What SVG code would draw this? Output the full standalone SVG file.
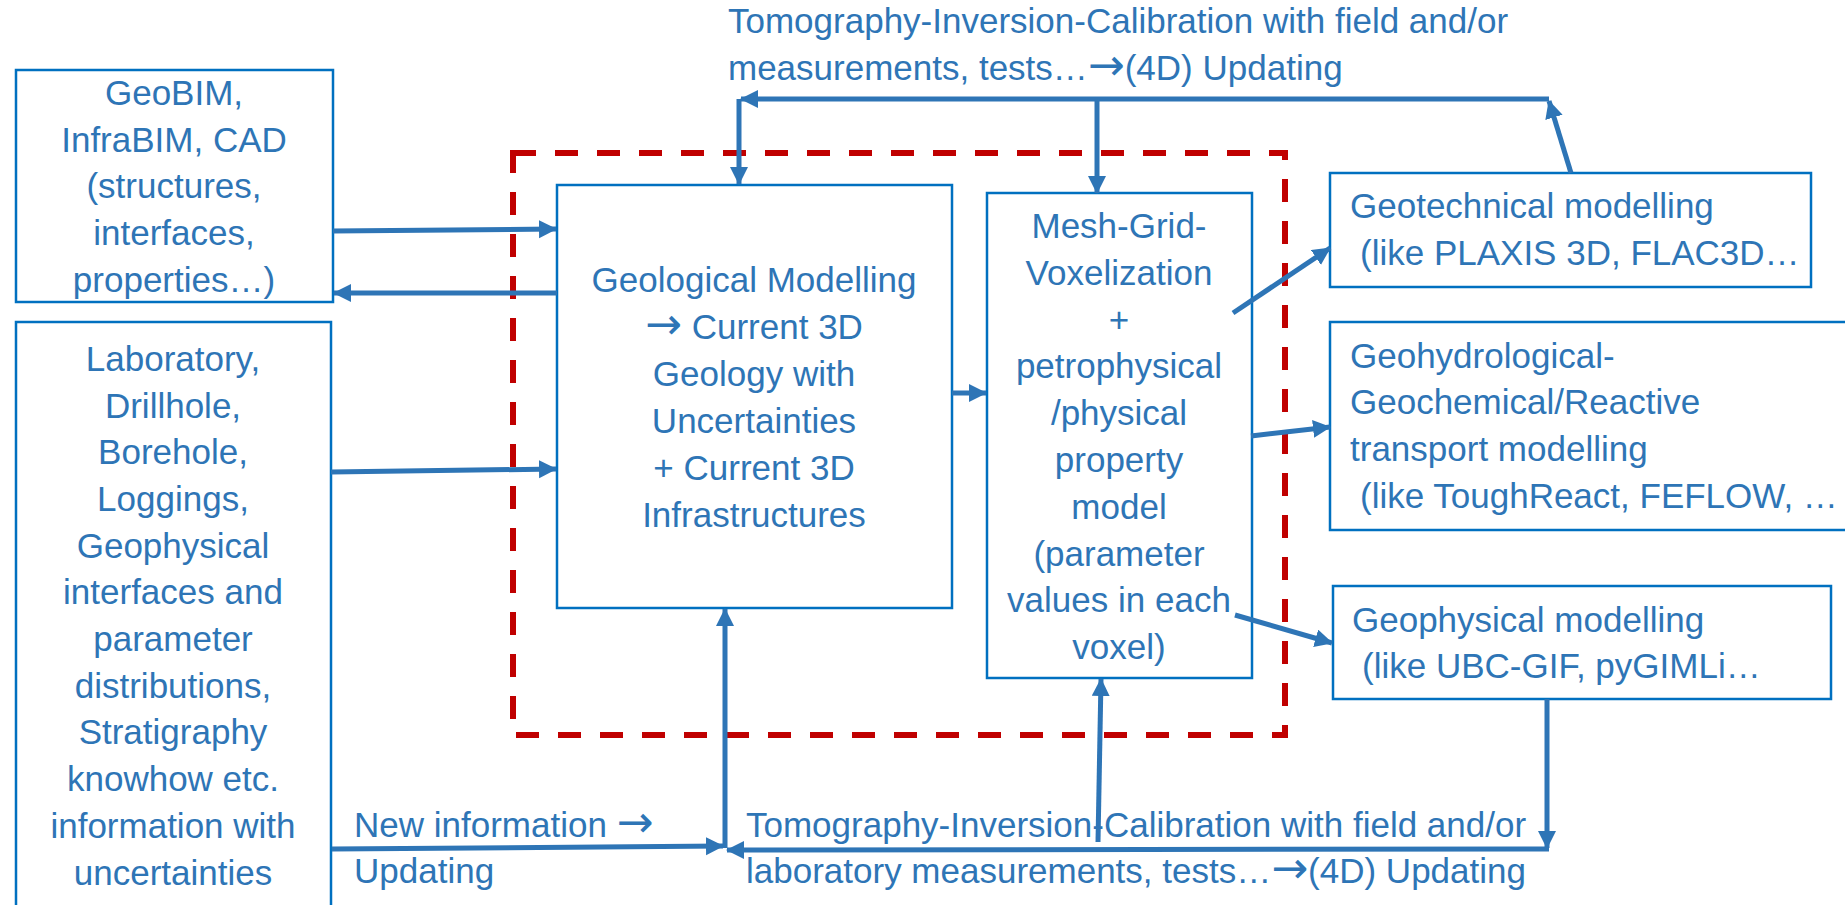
<svg xmlns="http://www.w3.org/2000/svg" width="1845" height="905" viewBox="0 0 1845 905">
  <style>
    .box { fill: #ffffff; stroke: #0070C0; stroke-width: 2.5; }
    .lbl { font-family: "Liberation Sans", Arial, sans-serif; font-size: 35px; fill: #2E75B6; }
    .c { text-anchor: middle; }
    .arr { font-family: "DejaVu Sans", sans-serif; font-size: 44px; }
    .wire { fill: none; stroke: #2E75B6; stroke-width: 5; }
    .frame { fill: none; stroke: #C00000; stroke-width: 6; stroke-dasharray: 23 19; }
  </style>
  <defs>
    <marker id="head" markerUnits="userSpaceOnUse" markerWidth="20" markerHeight="20" refX="17" refY="9" orient="auto">
      <path d="M0,0 L18,9 L0,18 Z" fill="#2E75B6"/>
    </marker>
  </defs>

  <rect width="1845" height="905" fill="#ffffff"/>

  <!-- processing boundary -->
  <path class="frame" d="M513,153 H1285 V735 H513 Z"/>

  <!-- nodes -->
  <g id="geobim">
    <rect class="box" x="16" y="70" width="317" height="232"/>
    <text class="lbl c" x="174" y="105">GeoBIM,</text>
    <text class="lbl c" x="174" y="152">InfraBIM, CAD</text>
    <text class="lbl c" x="174" y="198">(structures,</text>
    <text class="lbl c" x="174" y="245">interfaces,</text>
    <text class="lbl c" x="174" y="292">properties…)</text>
  </g>

  <g id="laboratory">
    <rect class="box" x="16" y="322" width="315" height="600"/>
    <text class="lbl c" x="173" y="371">Laboratory,</text>
    <text class="lbl c" x="173" y="418">Drillhole,</text>
    <text class="lbl c" x="173" y="464">Borehole,</text>
    <text class="lbl c" x="173" y="511">Loggings,</text>
    <text class="lbl c" x="173" y="558">Geophysical</text>
    <text class="lbl c" x="173" y="604">interfaces and</text>
    <text class="lbl c" x="173" y="651">parameter</text>
    <text class="lbl c" x="173" y="698">distributions,</text>
    <text class="lbl c" x="173" y="744">Stratigraphy</text>
    <text class="lbl c" x="173" y="791">knowhow etc.</text>
    <text class="lbl c" x="173" y="838">information with</text>
    <text class="lbl c" x="173" y="885">uncertainties</text>
  </g>

  <g id="geological">
    <rect class="box" x="557" y="185" width="395" height="423"/>
    <text class="lbl c" x="754" y="292">Geological Modelling</text>
    <text class="lbl c" x="754" y="339"><tspan class="arr">→</tspan> Current 3D</text>
    <text class="lbl c" x="754" y="386">Geology with</text>
    <text class="lbl c" x="754" y="433">Uncertainties</text>
    <text class="lbl c" x="754" y="480">+ Current 3D</text>
    <text class="lbl c" x="754" y="527">Infrastructures</text>
  </g>

  <g id="mesh">
    <rect class="box" x="987" y="193" width="265" height="485"/>
    <text class="lbl c" x="1119" y="238">Mesh-Grid-</text>
    <text class="lbl c" x="1119" y="285">Voxelization</text>
    <text class="lbl c" x="1119" y="332">+</text>
    <text class="lbl c" x="1119" y="378">petrophysical</text>
    <text class="lbl c" x="1119" y="425">/physical</text>
    <text class="lbl c" x="1119" y="472">property</text>
    <text class="lbl c" x="1119" y="519">model</text>
    <text class="lbl c" x="1119" y="566">(parameter</text>
    <text class="lbl c" x="1119" y="612">values in each</text>
    <text class="lbl c" x="1119" y="659">voxel)</text>
  </g>

  <g id="geotechnical">
    <rect class="box" x="1330" y="173" width="481" height="114"/>
    <text class="lbl" x="1350" y="218">Geotechnical modelling</text>
    <text class="lbl" x="1360" y="265">(like PLAXIS 3D, FLAC3D…</text>
  </g>

  <g id="geohydrological">
    <rect class="box" x="1330" y="322" width="530" height="208"/>
    <text class="lbl" x="1350" y="368">Geohydrological-</text>
    <text class="lbl" x="1350" y="414">Geochemical/Reactive</text>
    <text class="lbl" x="1350" y="461">transport modelling</text>
    <text class="lbl" x="1360" y="508">(like ToughReact, FEFLOW, …</text>
  </g>

  <g id="geophysical">
    <rect class="box" x="1333" y="586" width="498" height="113"/>
    <text class="lbl" x="1352" y="632">Geophysical modelling</text>
    <text class="lbl" x="1362" y="678">(like UBC-GIF, pyGIMLi…</text>
  </g>

  <!-- edge labels -->
  <g id="labels">
    <text class="lbl" x="728" y="33">Tomography-Inversion-Calibration with field and/or</text>
    <text class="lbl" x="728" y="80">measurements, tests…<tspan class="arr">→</tspan>(4D) Updating</text>
    <text class="lbl" x="354" y="837">New information <tspan class="arr">→</tspan></text>
    <text class="lbl" x="354" y="883">Updating</text>
    <text class="lbl" x="746" y="837">Tomography-Inversion-Calibration with field and/or</text>
    <text class="lbl" x="746" y="883">laboratory measurements, tests…<tspan class="arr">→</tspan>(4D) Updating</text>
  </g>

  <!-- connectors -->
  <g id="connectors">
    <path class="wire" d="M333,231 L556,229" marker-end="url(#head)"/>
    <path class="wire" d="M557,293 L334,293" marker-end="url(#head)"/>
    <path class="wire" d="M331,472 L556,469" marker-end="url(#head)"/>
    <path class="wire" d="M952,393 L986,393" marker-end="url(#head)"/>
    <path class="wire" d="M1233,313 L1330,248" marker-end="url(#head)"/>
    <path class="wire" d="M1251,436 L1330,427" marker-end="url(#head)"/>
    <path class="wire" d="M1235,615 L1332,643" marker-end="url(#head)"/>
    <!-- upper feedback loop -->
    <path class="wire" d="M1571,173 L1549,101" marker-end="url(#head)"/>
    <path class="wire" d="M1549,99 L741,99" marker-end="url(#head)"/>
    <path class="wire" d="M739,99 L739,184" marker-end="url(#head)"/>
    <path class="wire" d="M1097,99 L1097,193" marker-end="url(#head)"/>
    <!-- lower feedback loop -->
    <path class="wire" d="M1547,699 L1547,848" marker-end="url(#head)"/>
    <path class="wire" d="M1549,849 L727,850" marker-end="url(#head)"/>
    <path class="wire" d="M332,849 L723,846" marker-end="url(#head)"/>
    <path class="wire" d="M725,848 L725,609" marker-end="url(#head)"/>
    <path class="wire" d="M1098,842 L1101,679" marker-end="url(#head)"/>
  </g>
</svg>
